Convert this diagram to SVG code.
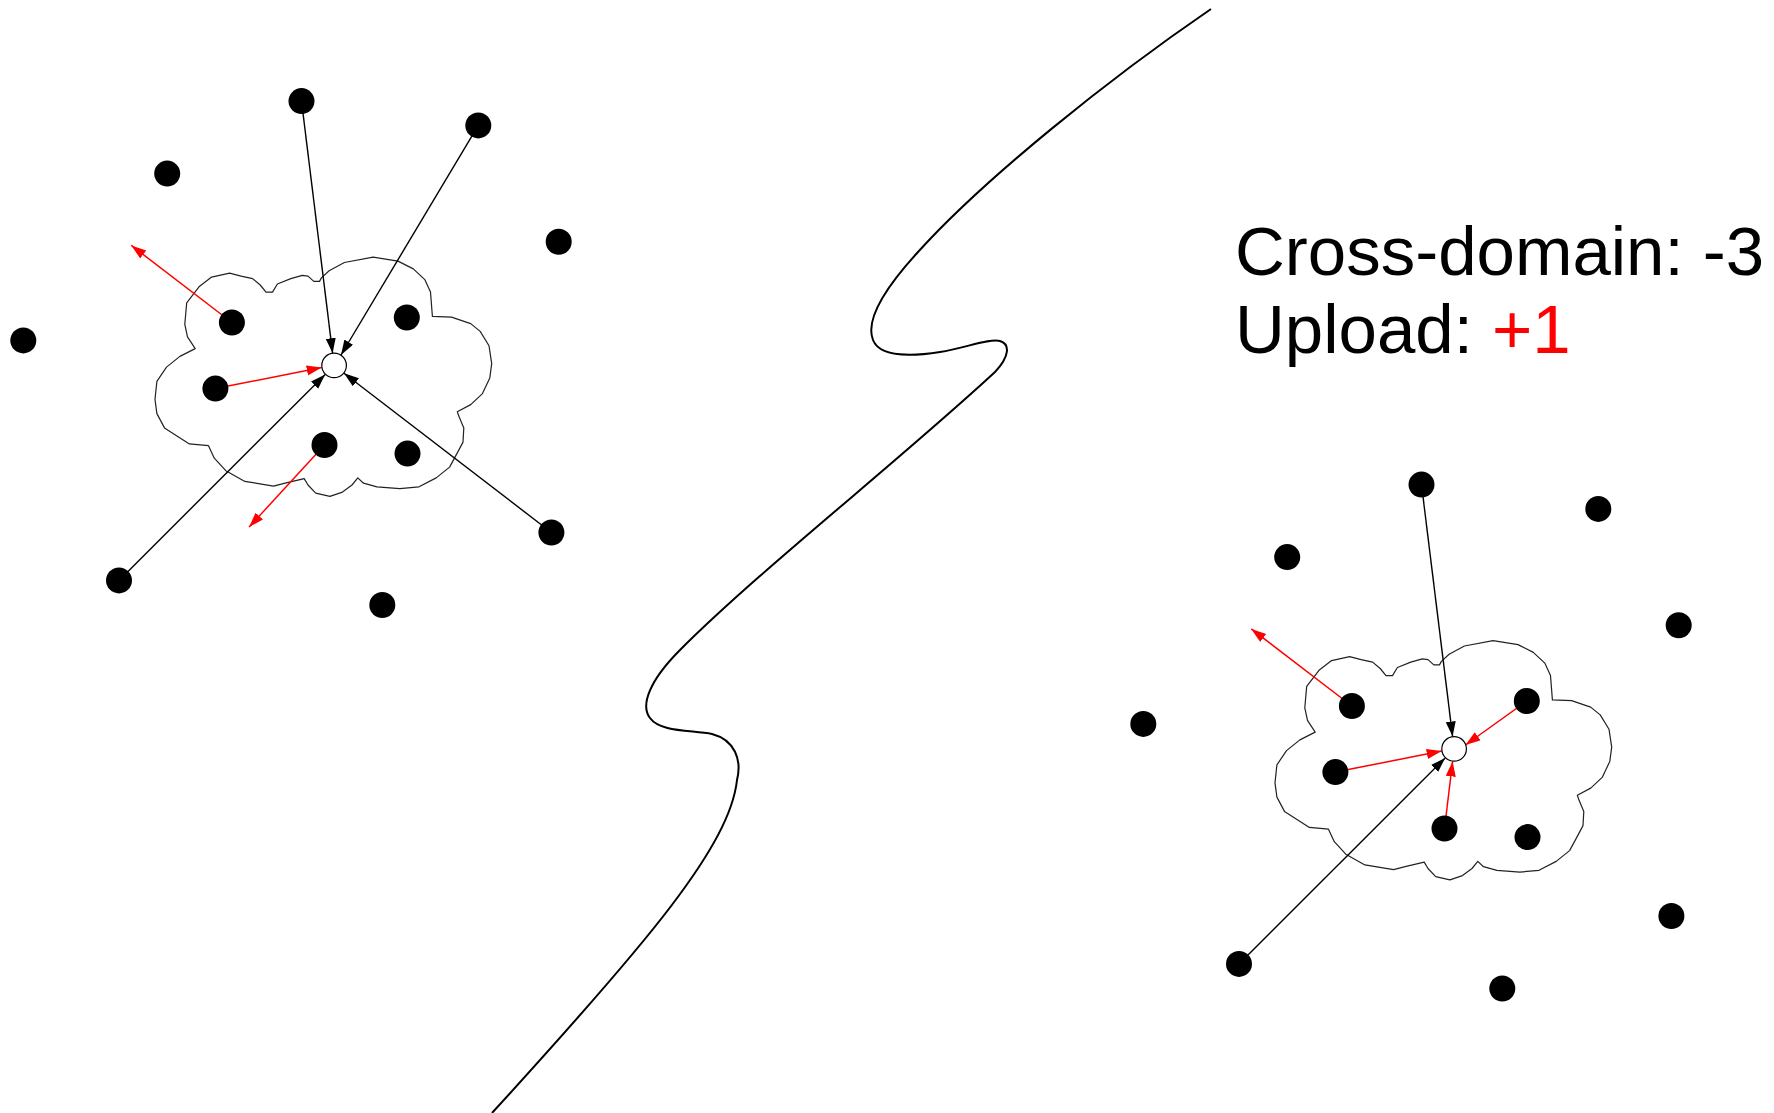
<svg xmlns="http://www.w3.org/2000/svg" xmlns:xlink="http://www.w3.org/1999/xlink" width="1774" height="1113" viewBox="0 0 1774 1113">
<style>
.dot{fill:#000}
.hub{fill:#fff;stroke:#000;stroke-width:1.2}
.cloud{fill:none;stroke:#222;stroke-width:1.2;stroke-linejoin:round}
.blk{stroke:#000;stroke-width:1.4;fill:none;marker-end:url(#ab)}
.red{stroke:#f00;stroke-width:1.5;fill:none;marker-end:url(#ar)}
.txt{font-family:"Liberation Sans",Arial,sans-serif;font-size:69px;fill:#000}
</style>
<defs>
<marker id="ab" markerUnits="userSpaceOnUse" markerWidth="16" markerHeight="12" refX="15" refY="5" orient="auto"><path d="M0,0 L15,5 L0,10 z" fill="#000"/></marker>
<marker id="ar" markerUnits="userSpaceOnUse" markerWidth="16" markerHeight="12" refX="15" refY="5" orient="auto"><path d="M0,0 L15,5 L0,10 z" fill="#f00"/></marker>
<path id="cloudshape" d="M229.6,273.2 L211.6,277.1 L199,286.8 L186.7,302.9 L184.8,324.3 L187.5,336.8 L195.2,348.6 L179.9,356.4 L166.5,367.1 L156.9,381.4 L155,399.3 L156.9,413.6 L164.5,427.9 L189.4,443.9 L208.5,445.7 L214.3,458.2 L225.8,470.7 L244.9,481.4 L273.6,486.1 L285.1,483.2 L304.2,478.6 L308,485 L315.7,493.2 L329.9,496.4 L342.5,492.1 L352,485 L357.8,477.9 L363.5,483.2 L376.9,486.8 L399.9,488.6 L419,486.8 L436.2,477.9 L449.6,467.1 L457.3,452.9 L463,442.1 L463.8,427.9 L459.2,417.1 L457.3,411.8 L470.7,404.6 L482.2,393.9 L489.8,377.9 L491.7,363.6 L489,345.7 L480.2,331.4 L470.7,323.6 L451.5,317.1 L432.4,316.4 L430.5,292.1 L424.8,279.6 L413.3,268.9 L398,261.1 L373.1,257.1 L344.4,262.5 L329.1,270.7 L321.4,277.9 L319.5,281.4 L313.8,281.4 L308,276.1 L302.3,275.4 L290.8,278.6 L277.4,284 L272.5,292.1 L266,292.1 L260.2,285 L252.6,278.6 L241.1,276.1 Z"/>
</defs>
<rect width="1774" height="1113" fill="#fff"/>

<g id="divider">
<path d="M1211,9 C1110,78 985,178 918,252 C885,288 865,320 873,340 C880,358 915,356 940,352 C965,348 990,338 1000,341 C1010,344 1010,356 995,372 C900,460 760,570 680,650 C650,680 640,705 650,718 C660,732 690,730 712,734 C735,740 742,760 737,780 C730,845 650,940 492,1113" fill="none" stroke="#000" stroke-width="2"/>
</g>

<g id="cloud-left"><use xlink:href="#cloudshape" class="cloud"/></g>
<g id="cloud-right"><use xlink:href="#cloudshape" class="cloud" transform="translate(1120,383.5)"/></g>

<g id="connectors">
<line class="blk" x1="301.5" y1="101.1" x2="332.6" y2="353.2"/>
<line class="blk" x1="478.3" y1="125.4" x2="341" y2="355"/>
<line class="blk" x1="119" y1="580.4" x2="325.2" y2="374.5"/>
<line class="blk" x1="551.4" y1="532.5" x2="344" y2="373.2"/>
<line class="red" x1="231.9" y1="322.5" x2="131.3" y2="245.4"/>
<line class="red" x1="215.4" y1="388.6" x2="321.7" y2="367.6"/>
<line class="red" x1="324.5" y1="445" x2="249.1" y2="527.1"/>

<line class="blk" x1="1421.5" y1="484.6" x2="1452.6" y2="736.6"/>
<line class="blk" x1="1239" y1="963.9" x2="1445.2" y2="757.9"/>
<line class="red" x1="1351.9" y1="706" x2="1251.3" y2="628.9"/>
<line class="red" x1="1335.4" y1="772.1" x2="1441.7" y2="751.1"/>
<line class="red" x1="1526.8" y1="701" x2="1465.5" y2="745"/>
<line class="red" x1="1444.5" y1="828.5" x2="1452.6" y2="761.4"/>
</g>

<g id="n-l-top"><circle class="dot" cx="301.5" cy="101.1" r="13"/></g>
<g id="n-l-tr"><circle class="dot" cx="478.3" cy="125.4" r="13"/></g>
<g id="n-l-ul"><circle class="dot" cx="167.2" cy="173.6" r="13"/></g>
<g id="n-l-r"><circle class="dot" cx="558.7" cy="241.8" r="13"/></g>
<g id="n-l-farl"><circle class="dot" cx="23.3" cy="340.4" r="13"/></g>
<g id="n-l-cul"><circle class="dot" cx="231.9" cy="322.5" r="13"/></g>
<g id="n-l-cr"><circle class="dot" cx="406.8" cy="317.5" r="13"/></g>
<g id="n-l-cl"><circle class="dot" cx="215.4" cy="388.6" r="13"/></g>
<g id="n-l-cb"><circle class="dot" cx="324.5" cy="445" r="13"/></g>
<g id="n-l-cbr"><circle class="dot" cx="407.5" cy="453.6" r="13"/></g>
<g id="n-l-lr"><circle class="dot" cx="551.4" cy="532.5" r="13"/></g>
<g id="n-l-ll"><circle class="dot" cx="119" cy="580.4" r="13"/></g>
<g id="n-l-b"><circle class="dot" cx="382.3" cy="605" r="13"/></g>
<g id="n-l-hub"><circle class="hub" cx="334.1" cy="365.4" r="12.3"/></g>

<g id="n-r-top"><circle class="dot" cx="1421.5" cy="484.6" r="13"/></g>
<g id="n-r-tr"><circle class="dot" cx="1598.3" cy="508.9" r="13"/></g>
<g id="n-r-ul"><circle class="dot" cx="1287.2" cy="557.1" r="13"/></g>
<g id="n-r-r"><circle class="dot" cx="1678.7" cy="625.3" r="13"/></g>
<g id="n-r-farl"><circle class="dot" cx="1143.3" cy="723.9" r="13"/></g>
<g id="n-r-cul"><circle class="dot" cx="1351.9" cy="706" r="13"/></g>
<g id="n-r-cr"><circle class="dot" cx="1526.8" cy="701" r="13"/></g>
<g id="n-r-cl"><circle class="dot" cx="1335.4" cy="772.1" r="13"/></g>
<g id="n-r-cb"><circle class="dot" cx="1444.5" cy="828.5" r="13"/></g>
<g id="n-r-cbr"><circle class="dot" cx="1527.5" cy="837.1" r="13"/></g>
<g id="n-r-lr"><circle class="dot" cx="1671.4" cy="916" r="13"/></g>
<g id="n-r-ll"><circle class="dot" cx="1239" cy="963.9" r="13"/></g>
<g id="n-r-b"><circle class="dot" cx="1502.3" cy="988.5" r="13"/></g>
<g id="n-r-hub"><circle class="hub" cx="1454.1" cy="748.9" r="12.3"/></g>

<g id="label">
<text class="txt" x="1235" y="275">Cross-domain: -3</text>
<text class="txt" x="1235" y="353">Upload: <tspan fill="#f00">+1</tspan></text>
</g>
</svg>
